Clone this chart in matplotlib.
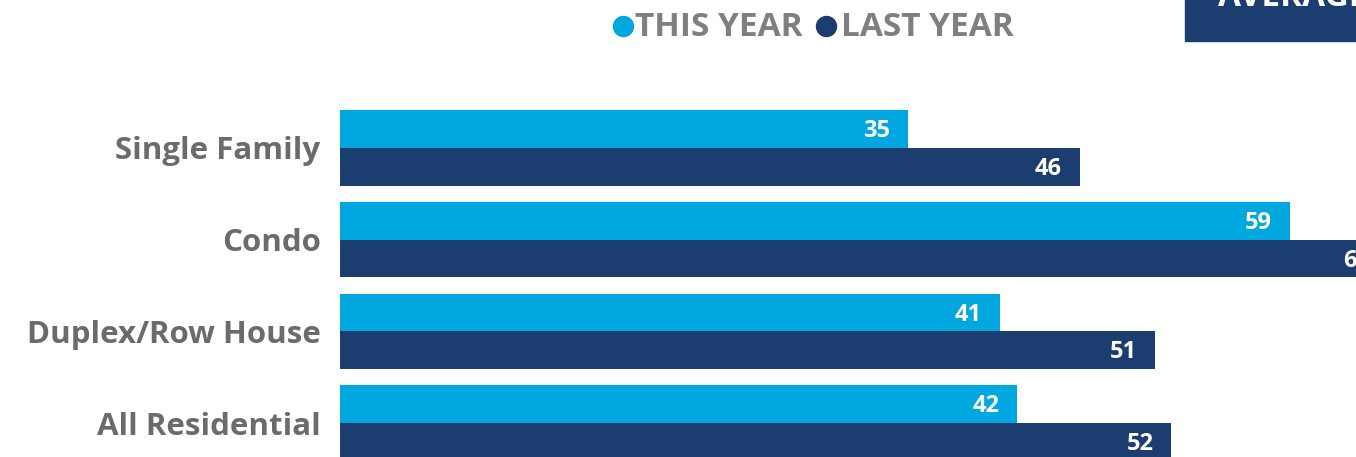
import matplotlib
matplotlib.use("Agg")
import matplotlib.pyplot as plt
from matplotlib.lines import Line2D
from matplotlib.patches import Rectangle
import numpy as np

plt.rcParams['font.family'] = ['Open Sans', 'DejaVu Sans']

categories = ["Single Family", "Condo", "Duplex/Row House", "All Residential"]
this_year = [35.4, 59.2, 41.1, 42.2]
last_year = [46.1, 65.3, 50.8, 51.8]
series_names = ["THIS YEAR", "LAST YEAR"]
title = "AVERAGE DAYS ON MARKET"

c_this = "#00A8DF"
c_last = "#1B3D6F"
gray_lbl = "#6B6B6B"
gray_leg = "#7F7F7F"

W, H = 1356, 457
fig = plt.figure(figsize=(W / 100, H / 100), dpi=100)

x0 = 340
ax = fig.add_axes([x0 / W, 0, 1 - x0 / W, 1])
px_per_unit = 16.05
ax.set_xlim(0, (W - x0) / px_per_unit)
grp = 91.67
ax.set_ylim((H - 148) / grp, -148 / grp)

y = np.arange(len(categories))
h = 0.41
b1 = ax.barh(y - h / 2, this_year, height=h, color=c_this)
b2 = ax.barh(y + h / 2, last_year, height=h, color=c_last)

for bars, vals in ((b1, this_year), (b2, last_year)):
    for rect, v in zip(bars, vals):
        ax.annotate(f"{v:.0f}", xy=(v, rect.get_y() + rect.get_height() / 2),
                    xytext=(-13, -1.5), textcoords="offset points",
                    ha="right", va="center", color="white",
                    fontsize=17, fontweight="bold", annotation_clip=False)

ax.set_yticks(y)
ax.set_yticklabels(categories, fontsize=22.5, fontweight="bold", color=gray_lbl)
ax.tick_params(axis="y", length=0, pad=14)
ax.set_xticks([])
for s in ax.spines.values():
    s.set_visible(False)

# legend
for cx, lx, col, name in ((623, 635, c_this, series_names[0]),
                          (826, 841, c_last, series_names[1])):
    fig.add_artist(Line2D([cx / W], [1 - 26 / H], marker="o", markersize=14.4,
                          color=col, linestyle="", transform=fig.transFigure))
    fig.text(lx / W, 1 - 27 / H, name, ha="left", va="center",
             fontsize=24, fontweight="bold", color=gray_leg)

# title box (cut off at top-right)
fig.add_artist(Rectangle((1185 / W, 1 - 41 / H), (W - 1185) / W, 41 / H,
                         transform=fig.transFigure, color=c_last))
fig.text(1218 / W, 1 - 6 / H, title, ha="left", va="baseline",
         fontsize=24, fontweight="bold", color="white")

fig.savefig("out.png", dpi=100)
